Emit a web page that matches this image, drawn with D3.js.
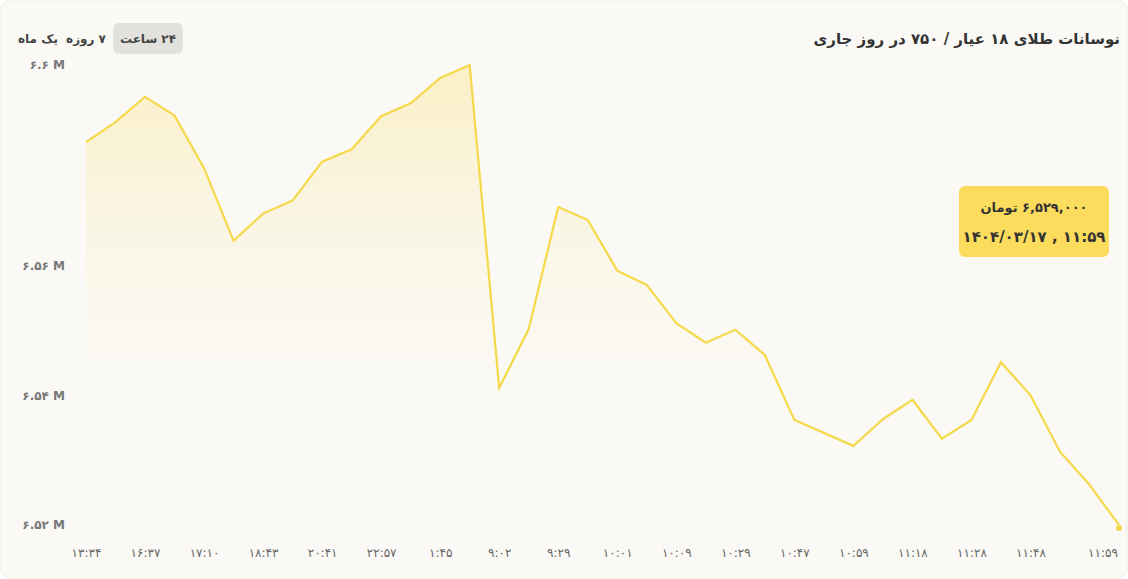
<!DOCTYPE html>
<html><head><meta charset="utf-8">
<script src="https://cdn.jsdelivr.net/npm/d3@7"></script>
<style>
body{margin:0;background:#fff;font-family:"DejaVu Sans",sans-serif;}
</style></head><body>
<svg id="c" width="1128" height="579"></svg>
<script>
const title = "نوسانات طلای ۱۸ عیار / ۷۵۰ در روز جاری";
const ranges = ["یک ماه","۷ روزه","۲۴ ساعت"];
const xLabels = ["۱۳:۳۴","۱۶:۳۷","۱۷:۱۰","۱۸:۴۳","۲۰:۴۱","۲۲:۵۷","۱:۴۵","۹:۰۲","۹:۲۹","۱۰:۰۱","۱۰:۰۹","۱۰:۲۹","۱۰:۴۷","۱۰:۵۹","۱۱:۱۸","۱۱:۲۸","۱۱:۴۸","۱۱:۵۹"];
const yTickValues = [6.529, 6.549, 6.569, 6.5999];
const yTickLabels = ["۶.۵۲ M","۶.۵۴ M","۶.۵۶ M","۶.۶ M"];
// values in millions
const values = [6.5880,6.5911,6.5950,6.5921,6.5840,6.5728,6.5770,6.5790,6.5850,6.5869,6.5920,6.5940,6.5979,6.5999,6.5501,6.5592,6.5780,6.5760,6.5682,6.5660,6.5601,6.5571,6.5591,6.5552,6.5452,6.5432,6.5412,6.5453,6.5483,6.5423,6.5452,6.5541,6.5490,6.5403,6.5352,6.5290];
const tipValue = "۶,۵۲۹,۰۰۰ تومان";
const tipDate = "۱۴۰۴/۰۳/۱۷ , ۱۱:۵۹";

const svg = d3.select("#c");
svg.append("rect").attr("x",1).attr("y",1).attr("width",1126).attr("height",577).attr("rx",8)
  .attr("fill","#faf9f5").attr("stroke","#eeece6");

const x = d3.scaleLinear().domain([0, values.length-1]).range([86,1119]);
const y = d3.scaleLinear().domain([6.529, 6.5999]).range([525,65]);

const defs = svg.append("defs");
const g = defs.append("linearGradient").attr("id","gr").attr("x1",0).attr("y1",0).attr("x2",0).attr("y2",1);
g.append("stop").attr("offset","0%").attr("stop-color","#fbe38a").attr("stop-opacity",0.45);
g.append("stop").attr("offset","100%").attr("stop-color","#faf9f5").attr("stop-opacity",0);

svg.append("path").datum(values)
  .attr("d", d3.area().x((d,i)=>x(i)).y0(460).y1(d=>Math.min(y(d),460)))
  .attr("fill","url(#gr)");
svg.append("path").datum(values)
  .attr("d", d3.line().x((d,i)=>x(i)).y(d=>y(d)))
  .attr("fill","none").attr("stroke","#f6d94a").attr("stroke-width",2.2);
svg.append("circle").attr("cx",x(values.length-1)).attr("cy",y(values[values.length-1])+3).attr("r",3).attr("fill","#f6d94a");

// y axis
const ya = d3.axisLeft(y).tickValues(yTickValues).tickFormat((d,i)=>yTickLabels[i]).tickSize(0);
const yg = svg.append("g").attr("transform","translate(68,0)").call(ya);
yg.select(".domain").remove();
yg.selectAll("text").attr("font-size",12).attr("fill","#777").attr("font-family","DejaVu Sans").attr("font-weight","bold");

// x axis
const xa = d3.axisBottom(x).tickValues(xLabels.map((d,i)=>i*2)).tickFormat((d,i)=>xLabels[i]).tickSize(0);
const xg = svg.append("g").attr("transform","translate(0,545)").call(xa);
xg.select(".domain").remove();
xg.selectAll("text").attr("font-size",12).attr("fill","#666").attr("font-family","DejaVu Sans");
xg.selectAll(".tick").filter((d,i)=>i===xLabels.length-1).attr("transform",`translate(${x(values.length-1)-16},0)`);

// title
svg.append("text").attr("x",1120).attr("y",44).attr("text-anchor","start").attr("direction","rtl")
  .attr("font-size",15).attr("font-weight","bold").attr("fill","#333").text(title);

// range buttons
svg.append("rect").attr("x",113).attr("y",23).attr("width",70).attr("height",31).attr("rx",6).attr("fill","#e2e1de");
const bx = [38, 86, 148];
ranges.forEach((r,i)=>svg.append("text").attr("x",bx[i]).attr("y",43).attr("text-anchor","middle").attr("direction","rtl")
  .attr("font-size",12).attr("font-weight","bold").attr("fill","#444").text(r));

// tooltip
svg.append("rect").attr("x",959).attr("y",186).attr("width",150).attr("height",71).attr("rx",6).attr("fill","#fbdc5c");
svg.append("text").attr("x",1034).attr("y",212).attr("text-anchor","middle").attr("direction","rtl")
  .attr("font-size",13).attr("font-weight","bold").attr("fill","#333").text(tipValue);
svg.append("text").attr("x",1034).attr("y",242).attr("text-anchor","middle")
  .attr("font-size",15).attr("font-weight","bold").attr("fill","#333").text(tipDate);
</script></body></html>
